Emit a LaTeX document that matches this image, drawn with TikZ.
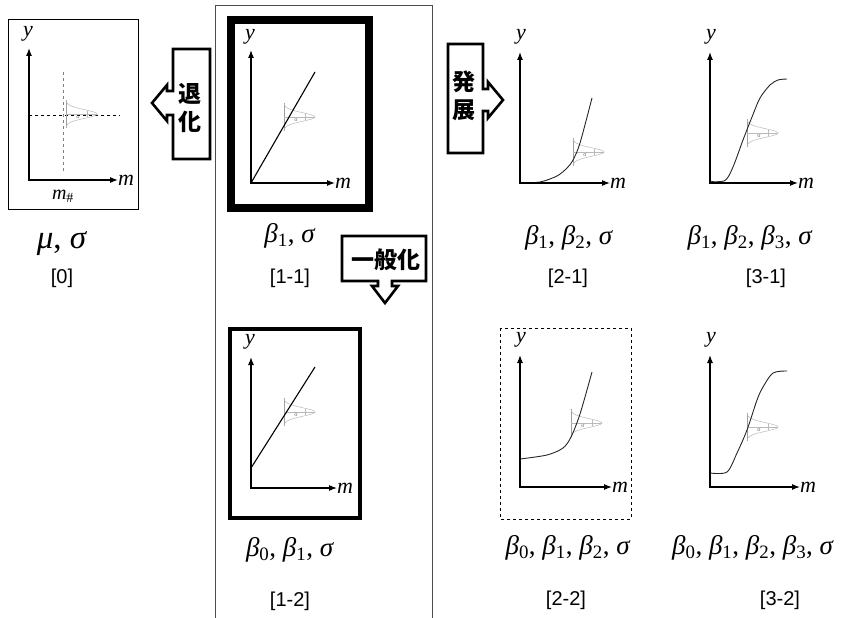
\documentclass[tikz,border=0pt]{standalone}
\usepackage{fontspec}
\setmainfont{Liberation Serif}
\setsansfont{Liberation Sans}
\newfontfamily\jpfont{Noto Sans CJK JP}
\usetikzlibrary{arrows.meta}

\newcommand\bt[1]{\textit{β}\textsubscript{#1}}
\newcommand\bell[2]{%
  \draw[gray!75,line width=0.8pt] (#1,#2-14) -- (#1,#2+14);
  \draw[gray!55,line width=0.5pt] plot[domain=-14:14,samples=41,smooth] ({#1+31*exp(-(\x/6)^2)},{#2+\x});
  \draw[gray!55,line width=0.5pt] (#1,#2) -- (#1+31,#2) (#1+21,#2-3) -- (#1+21,#2+3);
  \node[text=gray!80!black,font=\fontsize{6}{6}\selectfont,inner sep=0pt] at (#1+12,#2+3) {σ};}

\begin{document}
\begin{tikzpicture}[x=1pt,y=-1pt,line width=1pt,>={Latex[length=8pt,width=6pt]},
  axis/.style={<->,line width=1.1pt},
  curve/.style={gray!30!black,line width=0.9pt},
  param/.style={font=\fontsize{27}{30}\selectfont},
  tag/.style={font=\fontsize{20}{24}\selectfont\sffamily},
  axlabel/.style={font=\fontsize{22}{24}\selectfont\itshape,inner sep=0pt},
  callout/.style={draw,line width=2.6pt,fill=white,line join=miter},
  jp/.style={font=\fontsize{23}{28}\selectfont\jpfont\bfseries,align=center,inner sep=0pt}]
  \useasboundingbox (0,0) rectangle (841,618);

  % frame of the middle column
  \draw[gray!60!black] (215,618) |- (432,6) -- (432,618);

  % [0]
  \draw (8,20) rectangle (138,209);
  \begin{scope}[shift={(29,180)}]
    \draw[dashed,line width=0.8pt] (0,-65) -- (91,-65);
    \draw[dashed,gray,line width=0.8pt] (34,-108) -- (34,-8);
    \bell{37}{-66}
    \draw[axis] (0,-132) |- (89,0);
    \node[axlabel] (y0) at (-1,-146) {y};
    \node[axlabel] (m0) at (97,0) {m};
    \node[axlabel,font=\fontsize{20}{22}\selectfont] (mh) at (34,16) {\textit{m}\textsubscript{\#}};
  \end{scope}
  \node[param,font=\fontsize{33}{36}\selectfont] (p0) at (62,244) {\textit{μ}, \textit{σ}};
  \node[tag] (t0) at (62,278) {[0]};

  % 退化
  \draw[callout] (210,49) -- (173,49) -- (173,91) -- (167,91) -- (167,85) -- (152,103)
    -- (167,121) -- (167,115) -- (173,115) -- (173,159) -- (210,159) -- cycle;
  \node[jp] (deg) at (190,108) {退\\化};

  % [1-1]
  \draw[line width=8pt] (231,20) rectangle (369,208);
  \begin{scope}[shift={(251,183)}]
    \bell{33}{-66}
    \draw[line width=1.1pt] (0,0) -- (64,-111);
    \draw[axis] (0,-133) |- (84,0);
    \node[axlabel] (y11) at (-1,-146) {y};
    \node[axlabel] (m11) at (92,0) {m};
  \end{scope}
  \node[param] (p11) at (290,236) {\bt{1}, \textit{σ}};
  \node[tag] (t11) at (290,278) {[1-1]};

  % 一般化
  \draw[callout] (342,236) -- (426,236) -- (426,281) -- (392,281) -- (392,286) -- (398,286)
    -- (385,303) -- (372,286) -- (378,286) -- (378,281) -- (342,281) -- cycle;
  \node[jp] (gen) at (386,260) {一般化};

  % [1-2]
  \draw[line width=4pt] (230,329) rectangle (360,518);
  \begin{scope}[shift={(251,488)}]
    \bell{33}{-76}
    \draw[line width=1.1pt] (0,-20) -- (64,-121);
    \draw[axis] (0,-131) |- (86,0);
    \node[axlabel] (y12) at (-1,-146) {y};
    \node[axlabel] (m12) at (94,0) {m};
  \end{scope}
  \node[param] (p12) at (290,550) {\bt{0}, \bt{1}, \textit{σ}};
  \node[tag] (t12) at (290,601) {[1-2]};

  % 発展
  \draw[callout] (448,44) -- (483,44) -- (483,89) -- (488,89) -- (488,82) -- (503,100)
    -- (488,118) -- (488,111) -- (483,111) -- (483,153) -- (448,153) -- cycle;
  \node[jp] (dev) at (464,96) {発\\展};

  % [2-1]
  \begin{scope}[shift={(520,183)}]
    \bell{53}{-31}
    \draw[curve] plot[smooth] coordinates {(0,0) (20,-1) (37,-7) (47,-15) (53,-23) (60,-40) (72,-85)};
    \draw[axis] (0,-131) |- (90,0);
    \node[axlabel] (y21) at (1,-146) {y};
    \node[axlabel] (m21) at (98,0) {m};
  \end{scope}
  \node[param] (p21) at (569,238) {\bt{1}, \bt{2}, \textit{σ}};
  \node[tag] (t21) at (568,278) {[2-1]};

  % [3-1]
  \begin{scope}[shift={(710,183)}]
    \bell{37}{-50}
    \draw[curve] plot[smooth] coordinates {(0,-1.5) (15,-2.5) (23,-16) (33,-43) (42,-66) (50,-85) (60,-98) (68,-103) (77,-104)};
    \draw[axis] (0,-131) |- (88,0);
    \node[axlabel] (y31) at (1,-146) {y};
    \node[axlabel] (m31) at (96,0) {m};
  \end{scope}
  \node[param] (p31) at (750,238) {\bt{1}, \bt{2}, \bt{3}, \textit{σ}};
  \node[tag] (t31) at (766,278) {[3-1]};

  % [2-2]
  \draw[dashed,line width=0.8pt] (500,328) rectangle (631,519);
  \begin{scope}[shift={(520,487)}]
    \bell{51}{-64}
    \draw[curve] plot[smooth] coordinates {(0,-28) (27,-32) (43,-39) (51,-50) (60,-73) (72,-115)};
    \draw[axis] (0,-132) |- (92,0);
    \node[axlabel] (y22) at (1,-147) {y};
    \node[axlabel] (m22) at (100,0) {m};
  \end{scope}
  \node[param] (p22) at (568,548) {\bt{0}, \bt{1}, \bt{2}, \textit{σ}};
  \node[tag] (t22) at (566,600) {[2-2]};

  % [3-2]
  \begin{scope}[shift={(710,487)}]
    \bell{37}{-60}
    \draw[curve] plot[smooth] coordinates {(0,-14) (17,-15) (27,-34) (37,-57) (47,-87) (53,-100) (63,-114) (77,-116)};
    \draw[axis] (0,-132) |- (90,0);
    \node[axlabel] (y32) at (1,-147) {y};
    \node[axlabel] (m32) at (98,0) {m};
  \end{scope}
  \node[param] (p32) at (753,548) {\bt{0}, \bt{1}, \bt{2}, \bt{3}, \textit{σ}};
  \node[tag] (t32) at (780,600) {[3-2]};
\end{tikzpicture}
\end{document}
